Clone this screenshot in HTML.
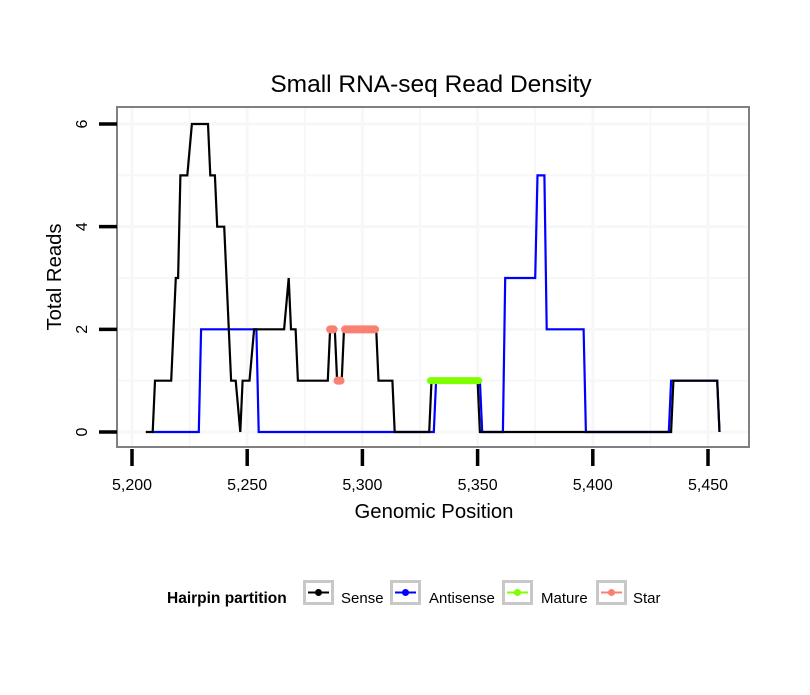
<!DOCTYPE html>
<html><head><meta charset="utf-8"><style>
body{margin:0;background:#fff}
svg text{font-family:"Liberation Sans",sans-serif}
</style></head><body>
<svg id="chart" width="810" height="690" xmlns="http://www.w3.org/2000/svg">
<rect width="810" height="690" fill="#fff"/>
<text x="431" y="92" font-size="24.5" text-anchor="middle">Small RNA-seq Read Density</text>
<g id="grid"></g>
<g id="series"></g>
<rect x="117" y="107" width="632" height="340" fill="none" stroke="#808080" stroke-width="2"/>
<g id="axes"></g>
<text x="434" y="518" font-size="20.3" text-anchor="middle">Genomic Position</text>
<text transform="translate(61,277) rotate(-90)" font-size="20.3" text-anchor="middle">Total Reads</text>
<g>
<text x="167" y="603" font-size="15.5" font-weight="bold">Hairpin partition</text>
<g id="legend"></g>
</g>
</svg>
<script>
const xTicks=[5200,5250,5300,5350,5400,5450];
const yTicks=[0,2,4,6];
const senseX=[5206,5209,5210,5217,5219,5220,5221,5224,5226,5233,5234,5236,5237,5240,5243,5245,5247,5248,5251,5253,5266,5268,5269,5271,5272,5285,5286,5288,5289,5291,5292,5306,5307,5313,5314,5329,5330,5350,5351,5434,5435,5454,5455];
const senseY=[0,0,1,1,3,3,5,5,6,6,5,5,4,4,1,1,0,1,1,2,2,3,2,2,1,1,2,2,1,1,2,2,1,1,0,0,1,1,0,0,1,1,0];
const antiX=[5209,5229,5230,5254,5255,5331,5332,5351,5352,5361,5362,5375,5376,5379,5380,5396,5397,5433,5434,5454,5455];
const antiY=[0,0,2,2,0,0,1,1,0,0,3,3,5,5,2,2,0,0,1,1,0];
const matureStart=[5329.5];
const matureEnd=[5350.5];
const matureY=[1];
const starStart=[5286,5289.2,5292.5];
const starEnd=[5287.5,5290.5,5305.5];
const starY=[2,1,2];
const legendLabels=["Sense","Antisense","Mature","Star"];
const legendColors=["#000000","#0000ff","#7fff00","#fa8072"];

const NS="http://www.w3.org/2000/svg";
const sx=v=>132+(v-5200)*2.304;
const sy=v=>432-v*51.33;
function mk(tag,attrs,parent){const e=document.createElementNS(NS,tag);for(const k in attrs)e.setAttribute(k,attrs[k]);parent.appendChild(e);return e;}
const grid=document.getElementById('grid'),series=document.getElementById('series'),axes=document.getElementById('axes'),legend=document.getElementById('legend');
for(let v=5200;v<=5475;v+=25){const x=sx(v);if(x<118||x>748)continue;const g=mk('line',{x1:x,x2:x,y1:108,y2:446,stroke:'#f7f7f7','stroke-width':v%50===0?3:2},grid);

}
for(let v=0;v<=6.5;v+=1){const y=sy(v);const g=mk('line',{x1:118,x2:748,y1:y,y2:y,stroke:'#f7f7f7','stroke-width':v%2===0?3:2},grid);

}
function path(xs,ys,color,name){let d=xs.map((x,i)=>(i?'L':'M')+sx(x).toFixed(1)+','+sy(ys[i]).toFixed(1)).join('');const p=mk('path',{d:d,fill:'none',stroke:color,'stroke-width':2.2,'stroke-linejoin':'miter'},series);

}
path(antiX,antiY,'#0000ff','antisense-line');
path(senseX,senseY,'#000000','sense-line');
matureStart.forEach((s,i)=>{const l=mk('line',{x1:sx(s),x2:sx(matureEnd[i]),y1:sy(matureY[i]),y2:sy(matureY[i]),stroke:'#7fff00','stroke-width':7,'stroke-linecap':'round'},series);

});
starStart.forEach((s,i)=>{const l=mk('line',{x1:sx(s),x2:sx(starEnd[i]),y1:sy(starY[i]),y2:sy(starY[i]),stroke:'#fa8072','stroke-width':8,'stroke-linecap':'round'},series);

});
xTicks.forEach(v=>{const x=sx(v);const t=mk('line',{x1:x,x2:x,y1:449,y2:466,stroke:'#000','stroke-width':3.5},axes);


const l=mk('text',{x:x,y:490,'font-size':16,'text-anchor':'middle'},axes);l.textContent=v.toLocaleString('en-US');

});
yTicks.forEach(v=>{const y=sy(v);const t=mk('line',{x1:99,x2:117,y1:y,y2:y,stroke:'#000','stroke-width':3.5},axes);


const l=mk('text',{transform:`translate(87,${y}) rotate(-90)`,'font-size':16,'text-anchor':'middle'},axes);l.textContent=v;

});
const boxX=[303,390,502,596],textX=[341,429,541,633];
legendLabels.forEach((lab,i)=>{const g=mk('g',{},legend);


mk('rect',{x:boxX[i]+1.5,y:581.5,width:28,height:22,fill:'#fff',stroke:'#c8c8c8','stroke-width':3},g);
mk('line',{x1:boxX[i]+5,x2:boxX[i]+26,y1:592.5,y2:592.5,stroke:legendColors[i],'stroke-width':2},g);
mk('circle',{cx:boxX[i]+15.5,cy:592.5,r:3.5,fill:legendColors[i]},g);
const t=mk('text',{x:textX[i],y:603,'font-size':15},g);t.textContent=lab;});
</script>
</body></html>
